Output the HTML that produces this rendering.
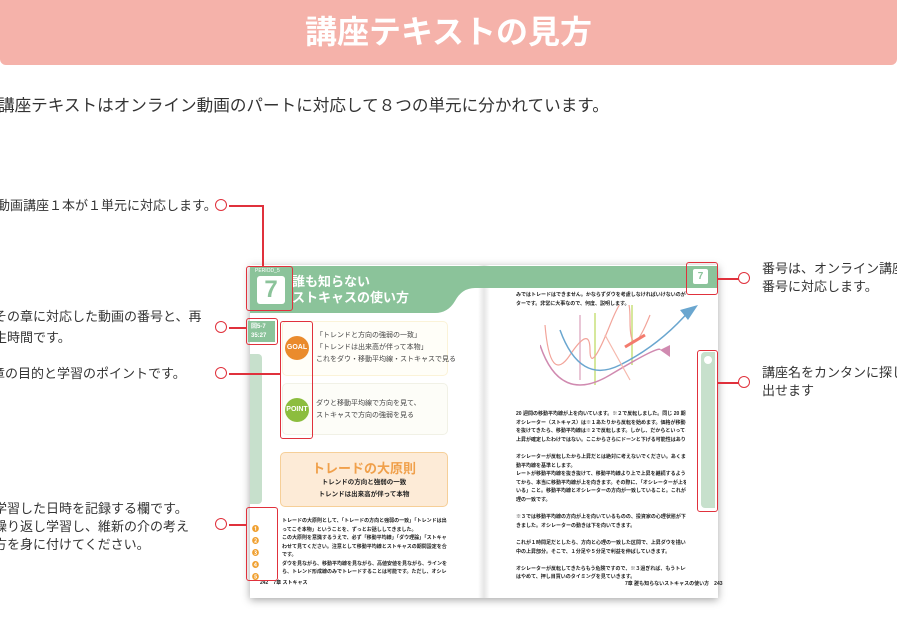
<!DOCTYPE html>
<html><head><meta charset="utf-8">
<style>
*{margin:0;padding:0;box-sizing:border-box}
body{width:897px;height:642px;overflow:hidden;background:#fff;position:relative;font-family:"Liberation Sans","Noto Sans CJK JP",sans-serif;color:#333}
.a{position:absolute}
.hd{left:0;top:0;width:897px;height:65px;background:#f5b2aa;border-radius:0 0 6px 6px}
.hd span{position:absolute;left:0;width:897px;top:12px;text-align:center;color:#fff;font-size:32px;line-height:40px;font-weight:bold;letter-spacing:0}
.t{font-size:13px;color:#333;white-space:nowrap;line-height:18px}
.rb{border:1.5px solid #e0313c;border-radius:3px}
.ln{background:#e0313c}
.c{width:12px;height:12px;border:1.5px solid #e0313c;border-radius:50%;background:#fff}
.tiny{font-size:5px;line-height:8.5px;color:#222;font-weight:bold;white-space:nowrap;overflow:hidden}
</style></head><body>
<div class="a hd"><span>講座テキストの見方</span></div>
<div class="a t" style="left:-2px;top:96px;font-size:16.6px;line-height:20px">講座テキストはオンライン動画のパートに対応して８つの単元に分かれています。</div>

<div class="a" style="left:250px;top:265px;width:468px;height:333px;background:#fff;box-shadow:0 2px 8px rgba(0,0,0,.35)"></div>
<div class="a" style="left:478px;top:265px;width:12px;height:333px;background:linear-gradient(90deg,#fff,#e6e6e6,#fff)"></div>
<svg class="a" style="left:250px;top:266px" width="468" height="50">
<path d="M0 0H468V22H225Q212 22 205 35Q198 47 185 47H0Z" fill="#8bc39a"/>
</svg>
<div class="a" style="left:255px;top:268px;font-size:5px;color:#fff">PERIOD_5</div>
<div class="a" style="left:257px;top:276px;width:28px;height:28px;background:#fff;border-radius:3px;color:#8bc39a;font-weight:bold;font-size:24px;text-align:center;line-height:28px">7</div>
<div class="a" style="left:292px;top:274px;color:#fff;font-weight:bold;font-size:13px;line-height:16px">誰も知らない<br>ストキャスの使い方</div>
<div class="a" style="left:693px;top:269px;width:15px;height:15px;background:#fff;border-radius:2px;color:#8bc39a;font-weight:bold;font-size:10px;text-align:center;line-height:15px">7</div>
<div class="a" style="left:248px;top:321px;width:27px;height:21px;background:#8bc39a;color:#fff;font-size:6px;font-weight:bold;line-height:9px;padding:2px 3px">回5-7<br>35:27</div>
<div class="a" style="left:250px;top:354px;width:12px;height:150px;background:#c7e0cc;border-radius:0 4px 4px 0"></div>
<div class="a" style="left:701px;top:352px;width:14px;height:156px;background:#c7e0cc;border-radius:4px 0 0 4px"></div>
<div class="a" style="left:704px;top:356px;width:8px;height:8px;background:#fff;border-radius:50%"></div>
<div class="a" style="left:282px;top:321px;width:166px;height:55px;border:1px solid #fbf3d8;border-radius:5px;background:#fffef8"></div>
<div class="a" style="left:285px;top:336px;width:24px;height:24px;background:#ea8b2c;border-radius:50%;color:#fff;font-size:7px;font-weight:bold;text-align:center;line-height:24px">GOAL</div>
<div class="a" style="left:316px;top:330px;font-size:7px;line-height:12px;color:#444">「トレンドと方向の強弱の一致」<br>「トレンドは出来高が伴って本物」<br>これをダウ・移動平均線・ストキャスで見る</div>
<div class="a" style="left:282px;top:383px;width:166px;height:52px;border:1px solid #f1f1e6;border-radius:5px;background:#fdfdf8"></div>
<div class="a" style="left:285px;top:398px;width:24px;height:24px;background:#8cbd3e;border-radius:50%;color:#fff;font-size:7px;font-weight:bold;text-align:center;line-height:24px">POINT</div>
<div class="a" style="left:316px;top:398px;font-size:7px;line-height:12px;color:#444">ダウと移動平均線で方向を見て、<br>ストキャスで方向の強弱を見る</div>
<div class="a" style="left:280px;top:452px;width:168px;height:55px;border:1px solid #f6cf98;border-radius:5px;background:#fdebd7;text-align:center">
<div style="color:#f0a04b;font-size:13px;font-weight:bold;margin-top:5px">トレードの大原則</div>
<div style="font-size:6.5px;font-weight:bold;line-height:12px;color:#222">トレンドの方向と強弱の一致<br>トレンドは出来高が伴って本物</div></div>
<div class="a" style="left:252px;top:512px;font-size:7px;line-height:12px;color:#f0a030;font-weight:bold">&nbsp;<br>❶<br>❷<br>❸<br>❹<br>❺</div>
<div class="a tiny" style="left:282px;top:517px;width:165px">トレードの大原則として、「トレードの方向と強弱の一致」「トレンドは出来高が伴<br>ってこそ本物」ということを、ずっとお話ししてきました。<br>この大原則を意識するうえで、必ず「移動平均線」「ダウ理論」「ストキャス」を合<br>わせて見てください。注意として移動平均線とストキャスの期間設定を合わせること<br>です。<br>ダウを見ながら、移動平均線を見ながら、高値安値を見ながら、ラインを引きなが<br>ら、トレンド形成線のみでトレードすることは可能です。ただし、オシレーター系の</div>
<div class="a tiny" style="left:260px;top:579px">242　7章 ストキャス</div>
<div class="a tiny" style="left:516px;top:291px;width:170px">みではトレードはできません。かならずダウを考慮しなければいけないのがオシレー<br>ターです。非常に大事なので、何度、説明します。</div>
<svg class="a" style="left:540px;top:305px" width="160" height="95">
<path d="M40 10V75" stroke="#e9c6d6" stroke-width="2"/><path d="M55 8V80" stroke="#c9e07a" stroke-width="1.5"/><path d="M92 0V60" stroke="#c9e07a" stroke-width="1.5"/>
<path d="M5 20Q10 80 30 50T50 45T70 20T90 15T110 10" stroke="#f2a49a" fill="none" stroke-width="1.2"/>
<path d="M20 25Q40 80 80 60T150 5" stroke="#6aa6cf" fill="none" stroke-width="1.5"/>
<path d="M0 40Q20 100 70 70T120 45" stroke="#d08ab0" fill="none" stroke-width="1.5"/>
<path d="M120 45l10 -5v12z" fill="#d08ab0"/><path d="M140 5l18 -5l-10 15z" fill="#6aa6cf"/>
<path d="M65 30L90 75" stroke="#f6b8ac" stroke-width="1.2"/><path d="M85 42L105 30" stroke="#f37b6e" stroke-width="3"/>
</svg>
<div class="a tiny" style="left:516px;top:410px;width:170px;line-height:8.6px">20 週間の移動平均線が上を向いています。※２で反転しました。同じ 20 期間の<br>オシレーター（ストキャス）は※１あたりから反転を始めます。価格が移動平均線<br>を抜けてきたら、移動平均線は※２で反転します。しかし、だからといってここで<br>上昇が確定したわけではない。ここからさらにドーンと下げる可能性はあります。<br><br>オシレーターが反転したから上昇だとは絶対に考えないでください。あくまでも移<br>動平均線を基準とします。<br>レートが移動平均線を抜き抜けて、移動平均線より上で上昇を継続するようになっ<br>てから、本当に移動平均線が上を向きます。その際に、「オシレーターが上を向いて<br>いる」こと。移動平均線とオシレーターの方向が一致していること。これが方向と心<br>理の一致です。<br><br>※３では移動平均線の方向が上を向いているものの、投資家の心理状態が下げて<br>きました。オシレーターの動きは下を向いてきます。<br><br>これが１時間足だとしたら、方向と心理の一致した区間で、上昇ダウを描いている<br>中の上昇部分。そこで、１分足や５分足で利益を伸ばしていきます。<br><br>オシレーターが反転してきたらもう危険ですので、※３過ぎれば、もうトレード<br>はやめて、押し目買いのタイミングを見ていきます。</div>
<div class="a tiny" style="left:625px;top:580px">7章 誰も知らないストキャスの使い方　243</div>

<div class="a rb" style="left:246px;top:266px;width:47px;height:45px"></div>
<div class="a rb" style="left:246px;top:318px;width:32px;height:27px"></div>
<div class="a rb" style="left:280px;top:321px;width:33px;height:118px"></div>
<div class="a rb" style="left:246px;top:507px;width:32px;height:74px"></div>
<div class="a rb" style="left:686px;top:262px;width:32px;height:33px"></div>
<div class="a rb" style="left:697px;top:350px;width:21px;height:162px"></div>

<div class="a ln" style="left:229px;top:205px;width:34px;height:1.5px"></div>
<div class="a ln" style="left:262px;top:205px;width:1.5px;height:62px"></div>
<div class="a ln" style="left:229px;top:327px;width:18px;height:1.5px"></div>
<div class="a ln" style="left:229px;top:373px;width:52px;height:1.5px"></div>
<div class="a ln" style="left:229px;top:524px;width:18px;height:1.5px"></div>
<div class="a ln" style="left:718px;top:278px;width:22px;height:1.5px"></div>
<div class="a ln" style="left:718px;top:382px;width:22px;height:1.5px"></div>

<div class="a c" style="left:215px;top:199px"></div>
<div class="a c" style="left:215px;top:321px"></div>
<div class="a c" style="left:215px;top:367px"></div>
<div class="a c" style="left:215px;top:518px"></div>
<div class="a c" style="left:738px;top:272px"></div>
<div class="a c" style="left:738px;top:376px"></div>

<div class="a t" style="left:-3px;top:197px">動画講座１本が１単元に対応します。</div>
<div class="a t" style="left:-6px;top:306px;line-height:21px">その章に対応した動画の番号と、再<br>生時間です。</div>
<div class="a t" style="left:-8px;top:365px">章の目的と学習のポイントです。</div>
<div class="a t" style="left:-6px;top:500px">学習した日時を記録する欄です。<br>繰り返し学習し、維新の介の考え<br>方を身に付けてください。</div>
<div class="a t" style="left:762px;top:260px">番号は、オンライン講座の<br>番号に対応します。</div>
<div class="a t" style="left:762px;top:364px">講座名をカンタンに探し<br>出せます</div>
</body></html>
